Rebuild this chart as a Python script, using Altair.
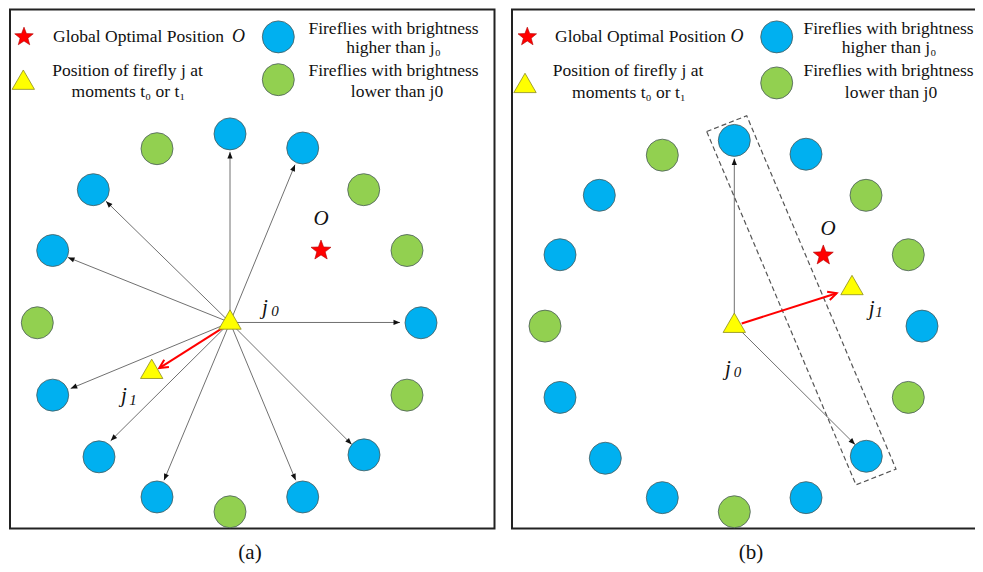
import math
import altair as alt
import pandas as pd

FONT = "'Liberation Serif', 'DejaVu Serif', 'Times New Roman', serif"
BLUE = "#00B0F0"
GREEN = "#92D050"

# ---- firefly circles (pixel-like coordinates of the figure) ----
A_CX = [230, 157, 302.7, 93.3, 363.7, 52.7, 407, 37.3, 421, 52.7, 407, 99, 364, 157, 302.7, 230]
A_CY = [131.7, 146.7, 146, 188.3, 188.3, 250, 250, 323.3, 323.3, 396.7, 396.7, 459.3, 457.3, 500, 500, 515]
B_CX = [734.3, 662.3, 806, 599.3, 866, 560, 908.3, 545, 922, 560, 908.3, 605.3, 866.3, 662.3, 806, 734.3]
B_CY = [138.3, 153.3, 152.3, 194, 194, 254.3, 254.3, 326.7, 326.7, 399, 399, 460.7, 458.7, 500.7, 500.7, 515]
KIND = ["higher", "lower", "higher", "higher", "lower", "higher", "lower", "lower",
        "higher", "higher", "lower", "higher", "higher", "higher", "higher", "lower"]
LEG_CX = [278.3, 278.3, 776.7, 776.7]
LEG_CY = [33.3, 76.7, 33.3, 80]
LEG_KIND = ["higher", "lower", "higher", "lower"]

# ---- black arrows ----
ARR_X1 = [230] * 10 + [734.3, 734.3]
ARR_Y1 = [323] * 10 + [325, 325]
ARR_X2 = [230, 295, 106, 68, 400, 70.7, 110.7, 164, 295.7, 351.7, 734.3, 855]
ARR_Y2 = [150, 163, 200, 257, 323, 390, 443, 483, 483, 446.7, 156.7, 446.7]

# ---- red arrows (movement of firefly j) ----
RED_X1 = [222, 741.7]
RED_Y1 = [329, 324]
RED_X2 = [159.3, 836.7]
RED_Y2 = [369.3, 293.3]

# ---- triangles and stars ----
TRI_X = [230, 151.7, 734.3, 852, 23.3, 525]
TRI_Y = [320, 370, 323.3, 285, 76.7, 80]
STAR_X = [321, 823.3]
STAR_Y = [250, 255]
LEG_STAR_X = [24, 527.3]
LEG_STAR_Y = [33.3, 33.3]

# ---- dashed box in (b) ----
BOX_X = [706.7, 746.7, 896, 856, 706.7]
BOX_Y = [129.3, 113.3, 471.7, 487.7, 129.3]

# ---- panel frames ----
FR_X1 = [10, 512]
FR_X2 = [494.5, 984]
FR_Y1 = [5.5, 5.5]
FR_Y2 = [532, 532]

# ---- texts ----
LEFT_TXT = ["Global Optimal Position", "Global Optimal Position"]
LEFT_TX = [53, 555]
LEFT_TY = [33, 33]
CTR_TXT = ["Fireflies with brightness", "higher than j\u2080", "Position of firefly j at",
           "moments t\u2080 or t\u2081", "Fireflies with brightness", "lower than j0",
           "Fireflies with brightness", "higher than j\u2080", "Position of firefly j at",
           "moments t\u2080 or t\u2081", "Fireflies with brightness", "lower than j0"]
CTR_TX = [393.5, 393.5, 127.5, 128.5, 393.5, 397, 888.5, 889, 628, 629, 888.5, 891]
CTR_TY = [25, 45, 68, 89, 68, 89, 25, 45, 68, 90, 68, 90]
LEG_O_TX = [238.5, 737]
LEG_O_TY = [33, 33]
MAP_O_TX = [321, 828]
MAP_O_TY = [218, 228]
J_TX = [265, 124, 728, 871.7]
J_TY = [308, 398, 370, 309]
SUB_TXT = ["0", "1", "0", "1"]
SUB_TX = [275, 133, 737.5, 879]
SUB_TY = [311, 402, 373, 312]
CAP_TXT = ["(a)", "(b)"]
CAP_TX = [250, 751]
CAP_TY = [557, 557]

XS = alt.Scale(domain=[8, 975], nice=False, zero=False)
YS = alt.Scale(domain=[4, 568], nice=False, zero=False, reverse=True)


def X(f="x"):
    return alt.X(f, type="quantitative", axis=None, scale=XS)


def Y(f="y"):
    return alt.Y(f, type="quantitative", axis=None, scale=YS)


def angles(x1, y1, x2, y2):
    return [math.degrees(math.atan2(b - a, -(d - c))) % 360 for a, c, b, d in zip(x1, y1, x2, y2)]


def star_path(inner=0.42):
    pts = []
    for k in range(10):
        r = 1.0 if k % 2 == 0 else inner
        a = math.radians(-90 + 36 * k)
        pts.append(f"{r * math.cos(a):.3f},{r * math.sin(a):.3f}")
    return "M" + " L".join(pts) + " Z"


STAR_SHAPE = star_path()


def text_layer(xs, ys, ts, **kw):
    df = pd.DataFrame({"x": xs, "y": ys, "t": ts})
    return alt.Chart(df).mark_text(font=FONT, baseline="middle", color="#111111", **kw).encode(
        x=X(), y=Y(), text="t:N")


frames = alt.Chart(pd.DataFrame({"x": FR_X1, "x2": FR_X2, "y": FR_Y1, "y2": FR_Y2})).mark_rect(
    filled=False, stroke="#222222", strokeWidth=2).encode(
    x=X(), x2="x2", y=Y(), y2="y2")

box = alt.Chart(pd.DataFrame({"x": BOX_X, "y": BOX_Y, "i": list(range(len(BOX_X)))})).mark_line(
    color="#555555", strokeWidth=1.2, strokeDash=[5, 3]).encode(x=X(), y=Y(), order="i:Q")

arr_df = pd.DataFrame({"x": ARR_X1, "y": ARR_Y1, "x2": ARR_X2, "y2": ARR_Y2,
                       "ang": angles(ARR_X1, ARR_Y1, ARR_X2, ARR_Y2)})
arr_lines = alt.Chart(arr_df).mark_rule(color="#606060", strokeWidth=0.9).encode(
    x=X(), y=Y(), x2="x2", y2="y2")
arr_heads = alt.Chart(arr_df).mark_point(
    shape="M0,0 L-0.4,1 L0.4,1 Z", filled=True, color="#111111", opacity=1, size=170).encode(
    x=X("x2"), y=Y("y2"), angle=alt.Angle("ang:Q", scale=None))

red_df = pd.DataFrame({"x": RED_X1, "y": RED_Y1, "x2": RED_X2, "y2": RED_Y2,
                       "ang": angles(RED_X1, RED_Y1, RED_X2, RED_Y2)})
red_lines = alt.Chart(red_df).mark_rule(color="#FF0000", strokeWidth=2).encode(
    x=X(), y=Y(), x2="x2", y2="y2")
red_heads = alt.Chart(red_df).mark_point(
    shape="M-0.5,1 L0,0 L0.5,1", filled=False, color="#FF0000", strokeWidth=2, opacity=1,
    size=300).encode(x=X("x2"), y=Y("y2"), angle=alt.Angle("ang:Q", scale=None))

circ_df = pd.DataFrame({"x": A_CX + B_CX + LEG_CX, "y": A_CY + B_CY + LEG_CY,
                        "kind": KIND + KIND + LEG_KIND})
circles = alt.Chart(circ_df).mark_point(
    shape="circle", filled=True, size=1024, opacity=1, stroke="#4a5a5a", strokeWidth=0.8).encode(
    x=X(), y=Y(),
    fill=alt.Fill("kind:N", legend=None,
                  scale=alt.Scale(domain=["higher", "lower"], range=[BLUE, GREEN])))

tris = alt.Chart(pd.DataFrame({"x": TRI_X, "y": TRI_Y})).mark_point(
    shape="triangle-up", filled=True, fill="#FFFF00", size=500, opacity=1,
    stroke="#8a8a20", strokeWidth=0.8).encode(x=X(), y=Y())

stars = alt.Chart(pd.DataFrame({"x": STAR_X, "y": STAR_Y})).mark_point(
    shape=STAR_SHAPE, filled=True, fill="#FF0000", size=440, opacity=1,
    stroke="#B00000", strokeWidth=0.6).encode(x=X(), y=Y())
leg_stars = alt.Chart(pd.DataFrame({"x": LEG_STAR_X, "y": LEG_STAR_Y})).mark_point(
    shape=STAR_SHAPE, filled=True, fill="#FF0000", size=380, opacity=1,
    stroke="#B00000", strokeWidth=0.6).encode(x=X(), y=Y())

txt_left = text_layer(LEFT_TX, LEFT_TY, LEFT_TXT, fontSize=17.5, align="left")
txt_ctr = text_layer(CTR_TX, CTR_TY, CTR_TXT, fontSize=17.5, align="center")
txt_leg_o = text_layer(LEG_O_TX, LEG_O_TY, ["O", "O"], fontSize=18, fontStyle="italic", align="center")
txt_map_o = text_layer(MAP_O_TX, MAP_O_TY, ["O", "O"], fontSize=21, fontStyle="italic", align="center")
txt_j = text_layer(J_TX, J_TY, ["j"] * 4, fontSize=21, fontStyle="italic", align="center")
txt_sub = text_layer(SUB_TX, SUB_TY, SUB_TXT, fontSize=15, fontStyle="italic", align="center")
txt_cap = text_layer(CAP_TX, CAP_TY, CAP_TXT, fontSize=21, align="center")

chart = alt.layer(
    frames, box, arr_lines, arr_heads, red_lines, red_heads, circles, tris, stars, leg_stars,
    txt_left, txt_ctr, txt_leg_o, txt_map_o, txt_j, txt_sub, txt_cap
).properties(
    width=967, height=556, padding=0, autosize=alt.AutoSizeParams(type="none")
).configure_view(stroke=None)

chart.save("out.html", embed_options={"renderer": "svg", "actions": False})
